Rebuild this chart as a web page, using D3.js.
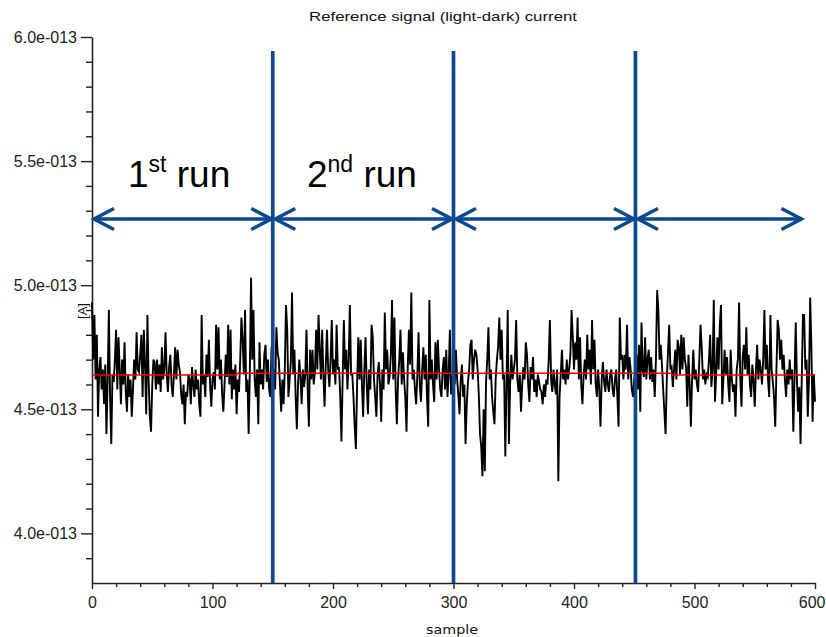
<!DOCTYPE html>
<html><head><meta charset="utf-8">
<script src="https://cdn.jsdelivr.net/npm/d3@7"></script>
<style>body{margin:0;background:#fff}svg{display:block}</style>
</head><body><svg id="c" width="826" height="637"></svg>
<script>
// Current values in units of 1e-13 A, one per sample (0..600)
const UNIT = 1e-13;
const run1 = [
4.93,4.70,4.88,4.62,4.80,4.47,4.66,4.71,4.58,4.66,
4.52,4.68,4.40,4.62,4.90,4.55,4.36,4.64,4.61,4.70,
4.82,4.58,4.79,4.66,4.52,4.70,4.60,4.77,4.57,4.49,
4.64,4.55,4.62,4.47,4.58,4.70,4.62,4.81,4.66,4.65,
4.72,4.80,4.55,4.82,4.68,4.48,4.88,4.62,4.47,4.41,
4.60,4.70,4.69,4.58,4.70,4.60,4.68,4.57,4.75,4.62,
4.66,4.81,4.64,4.57,4.67,4.72,4.60,4.55,4.64,4.75,
4.62,4.74,4.68,4.65,4.56,4.52,4.60,4.44,4.57,4.55,
4.64,4.62,4.52,4.67,4.60,4.55,4.66,4.58,4.62,4.52,
4.47,4.88,4.60,4.64,4.55,4.72,4.63,4.78,4.60,4.51,
4.62,4.65,4.58,4.84,4.66,4.83,4.62,4.70,4.56,4.49,
4.60,4.72,4.63,4.84,4.60,4.82,4.54,4.66,4.58,4.68,
4.48,4.62,4.57,4.70,4.87,4.78,4.64,4.90,4.57,4.62,
4.40,4.66,5.03,4.70,4.90,4.62,4.55,4.66,4.44,4.77,
4.60,4.66,4.58,4.72,4.76,4.61,4.70,4.58,4.55,4.75];
const run2 = [
4.62,4.66,4.58,4.83,4.73,4.70,4.60,4.49,4.62,4.52,
4.66,4.92,4.82,4.55,4.62,4.69,4.97,4.64,4.74,4.55,
4.42,4.60,4.70,4.63,4.52,4.66,4.59,4.64,4.82,4.58,
4.43,4.74,4.62,4.74,4.60,4.65,4.82,4.66,4.88,4.74,
4.62,4.82,4.64,4.51,4.68,4.82,4.66,4.59,4.70,4.86,
4.64,4.70,4.60,4.84,4.66,4.67,4.55,4.37,4.62,4.86,
4.66,4.74,4.58,4.70,4.92,4.64,4.64,4.55,4.43,4.34,
4.60,4.79,4.62,4.78,4.60,4.47,4.66,4.79,4.60,4.48,
4.66,4.58,4.84,4.79,4.62,4.55,4.47,4.64,4.69,4.60,
4.45,4.66,4.58,4.89,4.66,4.74,4.60,4.63,4.72,4.94,
4.62,4.87,4.58,4.44,4.62,4.70,4.82,4.60,4.73,4.62,
4.55,4.41,4.66,4.82,4.68,4.97,4.62,4.66,4.58,4.52,
4.64,4.81,4.60,4.53,4.66,4.75,4.62,4.72,4.55,4.43,
4.94,4.62,4.70,4.60,4.53,4.77,4.62,4.78,4.66,4.58,
4.55,4.66,4.71,4.58,4.74,4.55,4.64,4.82,4.56,4.62];
const run3 = [
4.67,4.60,4.74,4.62,4.56,4.48,4.62,4.68,4.55,4.60,
4.36,4.52,4.61,4.66,4.76,4.78,4.62,4.70,4.74,4.72,
4.66,4.56,4.40,4.35,4.23,4.50,4.25,4.61,4.70,4.83,
4.62,4.66,4.55,4.49,4.44,4.62,4.70,4.75,4.87,4.70,
4.82,4.62,4.64,4.31,4.60,4.90,4.36,4.60,4.72,4.62,
4.66,4.70,4.86,4.62,4.57,4.64,4.49,4.60,4.67,4.62,
4.77,4.72,4.60,4.53,4.67,4.62,4.71,4.57,4.62,4.55,
4.64,4.61,4.58,4.57,4.52,4.60,4.55,4.62,4.60,4.70,
4.86,4.62,4.57,4.66,4.60,4.56,4.66,4.21,4.55,4.64,
4.74,4.62,4.66,4.60,4.70,4.62,4.66,4.72,4.90,4.79,
4.66,4.77,4.70,4.87,4.62,4.79,4.60,4.52,4.64,4.70,
4.62,4.80,4.66,4.74,4.60,4.86,4.66,4.78,4.60,4.55,
4.66,4.58,4.43,4.62,4.69,4.61,4.57,4.66,4.60,4.57,
4.64,4.66,4.58,4.55,4.62,4.66,4.55,4.43,4.87,4.70,
4.72,4.62,4.72,4.66,4.84,4.62,4.71,4.66,4.58,4.55];
const run4 = [
4.62,4.66,4.72,4.58,4.76,4.49,4.85,4.66,4.63,4.79,
4.62,4.70,4.74,4.62,4.71,4.61,4.66,4.55,4.70,4.98,
4.90,4.70,4.76,4.68,4.58,4.49,4.40,4.62,4.73,4.84,
4.66,4.67,4.59,4.66,4.74,4.62,4.78,4.75,4.64,4.80,
4.66,4.79,4.70,4.67,4.51,4.72,4.60,4.43,4.62,4.74,
4.62,4.66,4.60,4.57,4.70,4.84,4.75,4.62,4.66,4.60,
4.64,4.63,4.70,4.80,4.59,4.66,4.94,4.53,4.64,4.79,
4.66,4.84,4.92,4.52,4.62,4.74,4.64,4.71,4.60,4.53,
4.74,4.62,4.57,4.60,4.47,4.66,4.70,4.93,4.62,4.51,
4.71,4.76,4.66,4.83,4.64,4.72,4.60,4.55,4.68,4.62,
4.51,4.66,4.76,4.62,4.70,4.66,4.60,4.70,4.90,4.66,
4.76,4.62,4.55,4.88,4.66,4.61,4.55,4.43,4.66,4.86,
4.82,4.70,4.78,4.66,4.72,4.62,4.55,4.66,4.60,4.70,
4.62,4.66,4.41,4.62,4.85,4.62,4.49,4.59,4.36,4.62,
4.88,4.88,4.66,4.70,4.47,4.62,4.95,4.75,4.45,4.64,
4.53];

// running mean (red), as steps: [startSample, value in 1e-13 A]
const meanSteps = [[0, 4.638], [120, 4.645], [481, 4.638], [600, 4.638]];
// run boundaries (sample index) and labels
const runBounds = [0, 150, 300, 451, 590];
const runLabels = [["1", "st", " run"], ["2", "nd", " run"]];
// axis ticks
const yMajor = [4.0, 4.5, 5.0, 5.5, 6.0];
const yMinor = [3.9, 4.1, 4.2, 4.3, 4.4, 4.6, 4.7, 4.8, 4.9, 5.1, 5.2, 5.3, 5.4, 5.6, 5.7, 5.8, 5.9];
const xMajor = [0, 100, 200, 300, 400, 500, 600];
const xMinor = [20, 40, 60, 80, 120, 140, 160, 180, 220, 240, 260, 280, 320, 340, 360, 380, 420, 440, 460, 480, 520, 540, 560, 580];

const signal = run1.concat(run2, run3, run4).map((v, i) => ({ s: i, v: v * UNIT }));

const svg = d3.select("#c");
const FONT = "'Liberation Sans', Arial, Helvetica, sans-serif";
const x = d3.scaleLinear().domain([0, 600]).range([92, 815]);
const y = d3.scaleLinear().domain([3.8 * UNIT, 6.0 * UNIT]).range([583, 37]);

function sciFmt(d) {
  const e = Math.floor(Math.log10(d) + 1e-9);
  const m = d / Math.pow(10, e);
  return m.toFixed(1) + "e" + (e < 0 ? "-" : "+") + String(Math.abs(e)).padStart(3, "0");
}

// Y axis
const gyMin = svg.append("g").attr("transform", "translate(92,0)")
  .call(d3.axisLeft(y).tickValues(yMinor.map(v => v * UNIT)).tickSize(6).tickSizeOuter(0).tickFormat(""));
gyMin.select(".domain").remove();
const gy = svg.append("g").attr("transform", "translate(92,0)")
  .call(d3.axisLeft(y).tickValues(yMajor.map(v => v * UNIT)).tickSize(11).tickSizeOuter(0).tickPadding(4).tickFormat(sciFmt));
gy.selectAll("text").style("font-family", FONT).style("font-size", "16px").attr("fill", "#222");

// X axis
const gxMin = svg.append("g").attr("transform", "translate(0,583)")
  .call(d3.axisBottom(x).tickValues(xMinor).tickSize(4).tickSizeOuter(0).tickFormat(""));
gxMin.select(".domain").remove();
const gx = svg.append("g").attr("transform", "translate(0,583)")
  .call(d3.axisBottom(x).tickValues(xMajor).tickSize(6).tickSizeOuter(0).tickPadding(8).tickFormat(d3.format("d")));
gx.selectAll("text").style("font-family", FONT).style("font-size", "16px").attr("fill", "#222");
// keep the last label inside the picture
gx.selectAll(".tick").filter(d => d === 600).select("text")
  .attr("text-anchor", "end").attr("x", 10);
svg.selectAll(".domain").attr("stroke", "#222").attr("stroke-width", 1.6);
svg.selectAll(".tick line").attr("stroke", "#222").attr("stroke-width", 1.4);

// signal
svg.append("path").datum(signal)
  .attr("fill", "none").attr("stroke", "#000").attr("stroke-width", 1.9)
  .attr("d", d3.line().x(d => x(d.s)).y(d => y(d.v)));

// mean line
svg.append("path").datum(meanSteps)
  .attr("fill", "none").attr("stroke", "#ff0000").attr("stroke-width", 1.6)
  .attr("d", d3.line().curve(d3.curveStepAfter).x(d => x(d[0])).y(d => y(d[1] * UNIT)));

// titles
svg.append("text").attr("x", 443).attr("y", 21).attr("text-anchor", "middle")
  .attr("textLength", 268).attr("lengthAdjust", "spacingAndGlyphs")
  .style("font-family", FONT).style("font-size", "13px").attr("fill", "#111")
  .text("Reference signal (light-dark) current");
svg.append("text").attr("x", 452).attr("y", 634).attr("text-anchor", "middle")
  .attr("textLength", 52).attr("lengthAdjust", "spacingAndGlyphs")
  .style("font-family", "'DejaVu Sans', sans-serif").style("font-size", "13px").attr("fill", "#111")
  .text("sample");
svg.append("text").attr("transform", "translate(87,311) rotate(-90)").attr("text-anchor", "middle")
  .style("font-family", FONT).style("font-size", "13px").attr("fill", "#111").text("[A]");

// run separators
const BLUE = "#0b4a93";
svg.selectAll(".sep").data(runBounds.slice(1, 4)).join("line")
  .attr("x1", d => x(d)).attr("x2", d => x(d)).attr("y1", 51).attr("y2", 583)
  .attr("stroke", BLUE).attr("stroke-width", 3.7);

// double-headed arrows
const AY = 219;
const pairs = d3.pairs(runBounds);
pairs.forEach(([a, b], i) => {
  const xa = x(a) + (i === 0 ? 2 : 2.5), xb = x(b) - 1.5;
  const g = svg.append("g").attr("stroke", BLUE).attr("stroke-width", 3.5).attr("fill", "none");
  g.append("line").attr("x1", xa).attr("x2", xb).attr("y1", AY).attr("y2", AY);
  g.append("polyline").attr("points", `${xa + 20},${AY - 10.5} ${xa},${AY} ${xa + 20},${AY + 10.5}`);
  g.append("polyline").attr("points", `${xb - 20},${AY - 10.5} ${xb},${AY} ${xb - 20},${AY + 10.5}`);
});

// run labels
const labelX = [128, 307];
runLabels.forEach((parts, i) => {
  const t = svg.append("text").attr("x", labelX[i]).attr("y", 187)
    .style("font-family", FONT).style("font-size", "37px").attr("fill", "#000");
  t.append("tspan").text(parts[0]);
  t.append("tspan").attr("dy", -15).style("font-size", "23px").text(parts[1]);
  t.append("tspan").attr("dy", 15).text(parts[2]);
});
</script>
</body></html>
